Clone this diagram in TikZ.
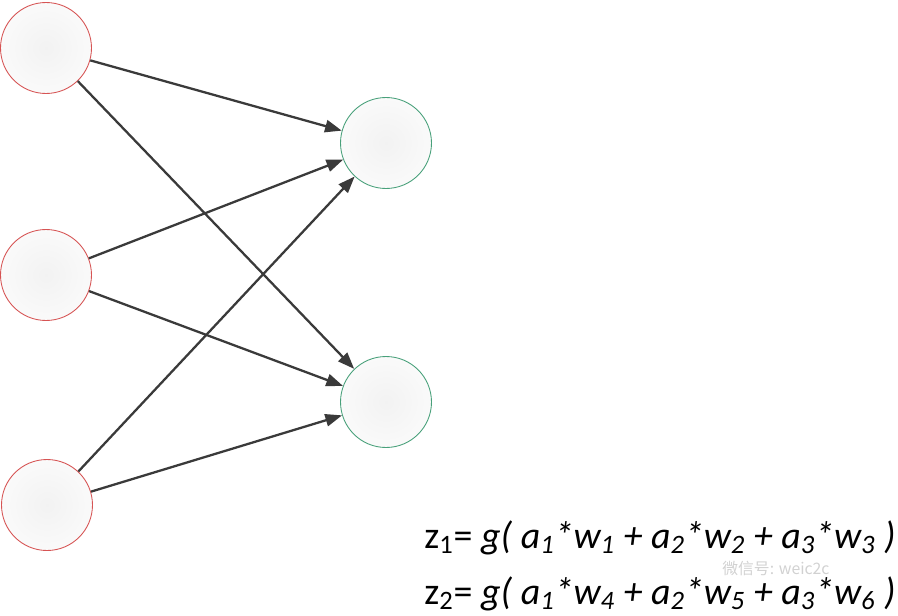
\documentclass[tikz,border=0pt]{standalone}
\usepackage{fontspec}
\setmainfont{Carlito}
\newfontfamily\cjk{Noto Sans CJK SC}
\usetikzlibrary{arrows.meta, positioning}
\definecolor{inred}{RGB}{214,84,84}
\definecolor{outgreen}{RGB}{72,160,122}
\definecolor{linkgray}{RGB}{58,58,58}

\begin{document}
\begin{tikzpicture}[
      x=0.02cm, y=-0.02cm,
      neuron/.style={circle, draw, line width=0.5pt, inner sep=0pt, minimum size=1.82cm,
                     inner color=gray!10, outer color=gray!4},
      inneuron/.style={neuron, draw=inred},
      outneuron/.style={neuron, draw=outgreen},
      link/.style={-{Triangle[length=9.5pt,width=7pt]}, line width=1.3pt, draw=linkgray},
      formula/.style={anchor=base west, inner sep=0pt, font=\fontsize{21.6}{26}\selectfont}
    ]
      \useasboundingbox (0,0) rectangle (898,615);

      % Input layer
      \node[inneuron] (a1) at (46,48) {};
      \node[inneuron] (a2) at (46,275) {};
      \node[inneuron] (a3) at (47,505) {};

      % Hidden layer
      \node[outneuron] (z1) at (386,143) {};
      \node[outneuron] (z2) at (386,402) {};

      % === ARROWS ===
      \foreach \i in {1,2,3} {
        \draw[link] (a\i) -- (z1);
        \draw[link] (a\i) -- (z2);
      }

      % Formulas
      \node[formula] (f1) at (424,548)
        {z\textsubscript{1}= \textit{g( a\textsubscript{1}*w\textsubscript{1} + a\textsubscript{2}*w\textsubscript{2} + a\textsubscript{3}*w\textsubscript{3} )}};
      \node[formula] (f2) at (424,604)
        {z\textsubscript{2}= \textit{g( a\textsubscript{1}*w\textsubscript{4} + a\textsubscript{2}*w\textsubscript{5} + a\textsubscript{3}*w\textsubscript{6} )}};

      % watermark
      \node[anchor=west, inner sep=0pt, text=gray!45, opacity=0.8, font=\cjk\fontsize{9}{10}\selectfont] (mark) at (722,569) {微信号: weic2c};
    \end{tikzpicture}
\end{document}
